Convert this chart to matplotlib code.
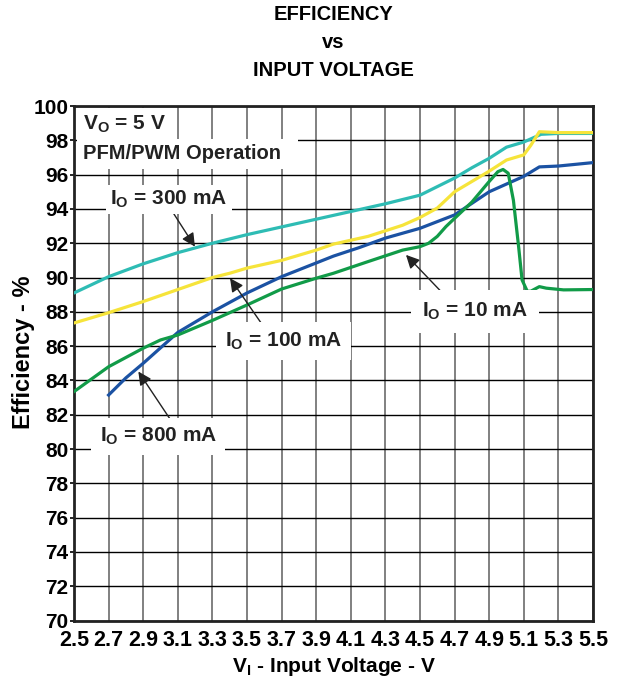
import matplotlib
matplotlib.use("Agg")
import matplotlib.pyplot as plt
import numpy as np

plt.rcParams['font.family'] = ['Liberation Sans', 'DejaVu Sans']
plt.rcParams['font.weight'] = 'bold'
plt.rcParams['mathtext.fontset'] = 'custom'
plt.rcParams['mathtext.rm'] = 'Liberation Sans:bold'
plt.rcParams['mathtext.it'] = 'Liberation Sans:bold'
plt.rcParams['mathtext.bf'] = 'Liberation Sans:bold'

# values
v_300 = [2.5, 2.7, 2.9, 3.1, 3.3, 3.5, 3.7, 3.9, 4.1, 4.3, 4.5, 4.6, 4.7, 4.8, 4.9, 5.0, 5.1, 5.2, 5.3, 5.5]
eff_300 = [89.1, 90.05, 90.8, 91.45, 92.0, 92.5, 92.95, 93.4, 93.85, 94.3, 94.8, 95.3, 95.8, 96.4, 96.95, 97.6, 97.9, 98.35, 98.4, 98.4]

v_100 = [2.5, 2.7, 2.9, 3.1, 3.3, 3.4, 3.5, 3.7, 3.9, 4.0, 4.2, 4.4, 4.5, 4.6, 4.7, 4.8, 4.9, 5.0, 5.1, 5.14, 5.19, 5.3, 5.5]
eff_100 = [87.35, 87.95, 88.6, 89.3, 90.0, 90.25, 90.55, 91.0, 91.6, 91.95, 92.4, 93.05, 93.5, 94.05, 95.0, 95.6, 96.2, 96.85, 97.15, 97.7, 98.5, 98.45, 98.45]

v_800 = [2.7, 2.8, 2.9, 3.1, 3.3, 3.5, 3.7, 3.9, 4.0, 4.15, 4.3, 4.5, 4.7, 4.9, 5.1, 5.19, 5.3, 5.5]
eff_800 = [83.15, 84.15, 85.0, 86.8, 88.0, 89.1, 90.05, 90.85, 91.25, 91.75, 92.3, 92.87, 93.65, 95.0, 95.9, 96.45, 96.5, 96.7]

v_10 = [2.5, 2.7, 2.9, 3.0, 3.1, 3.3, 3.5, 3.7, 3.9, 4.0, 4.2, 4.4, 4.45, 4.5, 4.55, 4.6, 4.65, 4.7, 4.8, 4.9, 4.95,
        4.98, 5.01, 5.04, 5.07, 5.09, 5.12, 5.14, 5.19, 5.23, 5.33, 5.5]
eff_10 = [83.35, 84.8, 85.88, 86.36, 86.65, 87.5, 88.4, 89.33, 89.96, 90.25, 90.93, 91.6, 91.7, 91.8, 92.0, 92.4, 92.97, 93.45,
          94.4, 95.6, 96.17, 96.3, 96.08, 94.5, 91.8, 89.86, 89.2, 89.2, 89.47, 89.38, 89.28, 89.3]

x_ticks = np.arange(2.5, 5.51, 0.2)
y_ticks = np.arange(70, 101, 2)

fig = plt.figure(figsize=(6.21, 6.78), dpi=100)
ax = fig.add_axes([74 / 621, 1 - 620.6 / 678, 519 / 621, 514.6 / 678])

lw = 2.3
ax.plot(v_300, eff_300, color='#2ebcb4', lw=lw, zorder=3)
ax.plot(v_100, eff_100, color='#f6e43a', lw=lw, zorder=3)
ax.plot(v_800, eff_800, color='#1b52a3', lw=lw, zorder=3)
ax.plot(v_10, eff_10, color='#119b48', lw=lw, zorder=3)

ax.set_xlim(2.5, 5.5)
ax.set_ylim(70, 100)
ax.set_xticks(x_ticks)
ax.set_xticklabels([f"{t:.1f}" for t in x_ticks])
ax.set_yticks(y_ticks)
ax.tick_params(axis='x', length=0, pad=7, labelsize=15.5)
ax.tick_params(axis='y', length=3, width=1.2, pad=1, labelsize=15)
for lab in ax.get_xticklabels() + ax.get_yticklabels():
    lab.set_fontweight('bold')

ax.grid(axis='x', color='#808080', lw=1.4, zorder=1)
ax.grid(axis='y', color='black', lw=1.0, zorder=1)
ax.set_axisbelow(True)
for s in ax.spines.values():
    s.set_linewidth(2.0)
    s.set_color('#222222')

ax.set_xlabel("V$_{\\rm I}$ - Input Voltage - V", fontsize=15, fontweight='bold', labelpad=3)
ax.set_ylabel("Efficiency - %", fontsize=17, fontweight='bold')
ax.yaxis.set_label_coords(-0.075, 0.522)

fig.text(0.537, 1 - 15 / 678, "EFFICIENCY", ha='center', va='center', fontsize=14.5, fontweight='bold')
fig.text(0.537, 1 - 42 / 678, "vs", ha='center', va='center', fontsize=14.5, fontweight='bold')
fig.text(0.537, 1 - 70 / 678, "INPUT VOLTAGE", ha='center', va='center', fontsize=14.5, fontweight='bold')

# operating conditions box
ax.text(2.55, 98.64, "V$_{\\rm O}$ = 5 V", fontsize=15, fontweight='bold', va='baseline', ha='left',
        color='#222222', zorder=5, bbox=dict(fc='white', ec='none', pad=4))
ax.text(2.55, 96.89, "PFM/PWM Operation  ", fontsize=14.5, fontweight='bold', va='baseline', ha='left',
        color='#222222', zorder=5, bbox=dict(fc='white', ec='none', pad=4))

# curve labels: (text, text pos, arrow tail, arrow tip, pad)
labels = [
    ("I$_{\\rm O}$ = 300 mA", (3.05, 94.23), (3.055, 94.06), (3.199, 91.80), 3),
    ("I$_{\\rm O}$ = 100 mA", (3.711, 85.97), (3.616, 86.85), (3.402, 89.96), 6),
    ("I$_{\\rm O}$ = 800 mA", (2.988, 80.42), (3.065, 81.60), (2.872, 84.52), 6),
    ("I$_{\\rm O}$ = 10 mA", (4.818, 87.70), (4.664, 88.74), (4.419, 91.32), 8),
]
for txt, pos, tail, tip, pad in labels:
    ax.annotate("", xy=tip, xytext=tail, zorder=4,
                arrowprops=dict(arrowstyle='-|>', color='#222222', lw=1.0, mutation_scale=20,
                                shrinkA=0, shrinkB=0))
    ax.text(pos[0], pos[1], txt, fontsize=15, fontweight='bold', ha='center', va='baseline',
            color='#222222', zorder=5, bbox=dict(fc='white', ec='none', pad=pad))

fig.savefig("out.png", dpi=100)
